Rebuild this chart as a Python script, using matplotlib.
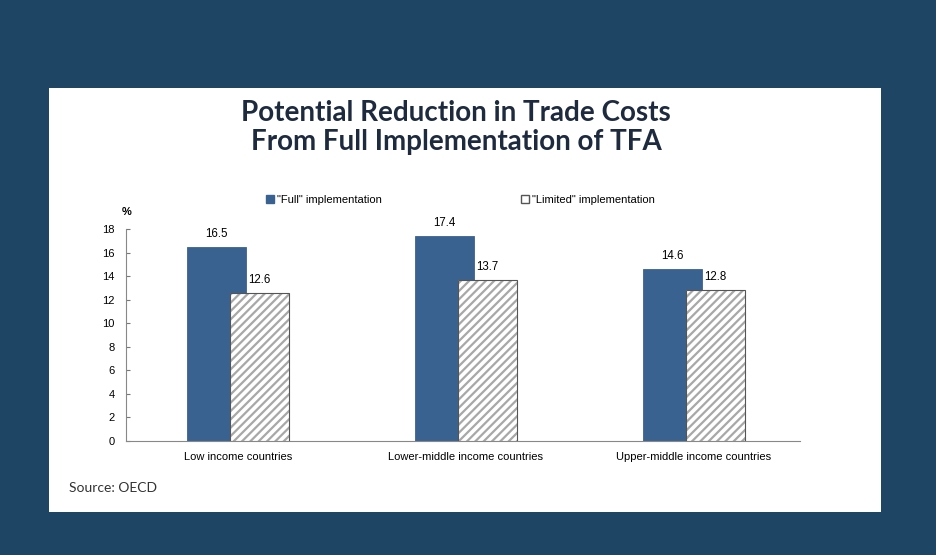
import matplotlib.pyplot as plt
import numpy as np
from matplotlib.patches import Rectangle, Patch

# data
categories = ['Low income countries', 'Lower-middle income countries', 'Upper-middle income countries']
full_impl = [16.5, 17.4, 14.6]
limited_impl = [12.6, 13.7, 12.8]
series_names = ['"Full" implementation', '"Limited" implementation']
yticks = [0, 2, 4, 6, 8, 10, 12, 14, 16, 18]

W, H = 937, 555
fig = plt.figure(figsize=(W / 100, H / 100), dpi=100)
fig.patch.set_facecolor('#1f4564')

# white card
fig.patches.append(Rectangle((49 / W, 1 - 512 / H), (881 - 49) / W, (512 - 88) / H,
                             transform=fig.transFigure, facecolor='white', edgecolor='none', zorder=-5))

fig.text(456 / W, 1 - 113 / H, 'Potential Reduction in Trade Costs', ha='center', va='center',
         fontsize=20, fontweight='bold', family='Lato', color='#1e2b3f')
fig.text(456 / W, 1 - 142 / H, 'From Full Implementation of TFA', ha='center', va='center',
         fontsize=20, fontweight='bold', family='Lato', color='#1e2b3f')
fig.text(69 / W, 1 - 488 / H, 'Source: OECD', ha='left', va='center',
         fontsize=10, family='Lato', color='#333333')

ax = fig.add_axes([126 / W, 1 - 441 / H, (800 - 126) / W, (441 - 229) / H])
ax.set_facecolor('none')
ax.set_zorder(2)

plt.rcParams['hatch.linewidth'] = 1.6

x = np.arange(len(categories))
bw = 0.259
off = 0.094
ax.bar(x - off, full_impl, bw, color='#3a6290', edgecolor='#3a6290', linewidth=0.6, zorder=2)
# hatch takes the edge colour, so draw the hatch and the outline separately
ax.bar(x + off, limited_impl, bw, color='white', edgecolor='#a8a8a8', hatch='////', linewidth=0, zorder=3)
ax.bar(x + off, limited_impl, bw, color='none', edgecolor='#555555', linewidth=0.8, zorder=4)

for i in range(len(categories)):
    ax.text(x[i] - off, full_impl[i] + 0.6, f'{full_impl[i]:.1f}', ha='center', va='bottom',
            fontsize=8.3, family='Liberation Sans')
    ax.text(x[i] + off, limited_impl[i] + 0.6, f'{limited_impl[i]:.1f}', ha='center', va='bottom',
            fontsize=8.3, family='Liberation Sans')

ax.set_xlim(-0.491, 2.465)
ax.set_ylim(0, 18)
ax.set_yticks(yticks)
ax.set_yticklabels([str(t) for t in yticks], family='Liberation Sans', fontsize=8)
ax.set_xticks(x)
ax.set_xticklabels(categories, family='Liberation Sans', fontsize=8)
ax.tick_params(axis='y', direction='in', length=3, color='#777777', pad=8)
ax.tick_params(axis='x', length=0, pad=8)
for s in ['top', 'right']:
    ax.spines[s].set_visible(False)
for s in ['left', 'bottom']:
    ax.spines[s].set_color('#888888')
    ax.spines[s].set_linewidth(0.8)

fig.text(122 / W, 1 - 212 / H, '%', ha='left', va='center', fontsize=8,
         fontweight='bold', family='Liberation Sans')

handles = [Patch(facecolor='#3a6290', edgecolor='#3a6290'),
           Patch(facecolor='white', edgecolor='#555555')]
fig.legend(handles, series_names, loc='center left', bbox_to_anchor=(266 / W, 1 - 200 / H),
           ncol=2, frameon=False, prop={'family': 'Liberation Sans', 'size': 8},
           handlelength=0.7, handleheight=0.7, handletextpad=0.3, columnspacing=12.5,
           borderaxespad=0, borderpad=0)

fig.savefig('out.png', dpi=100, facecolor=fig.get_facecolor())
